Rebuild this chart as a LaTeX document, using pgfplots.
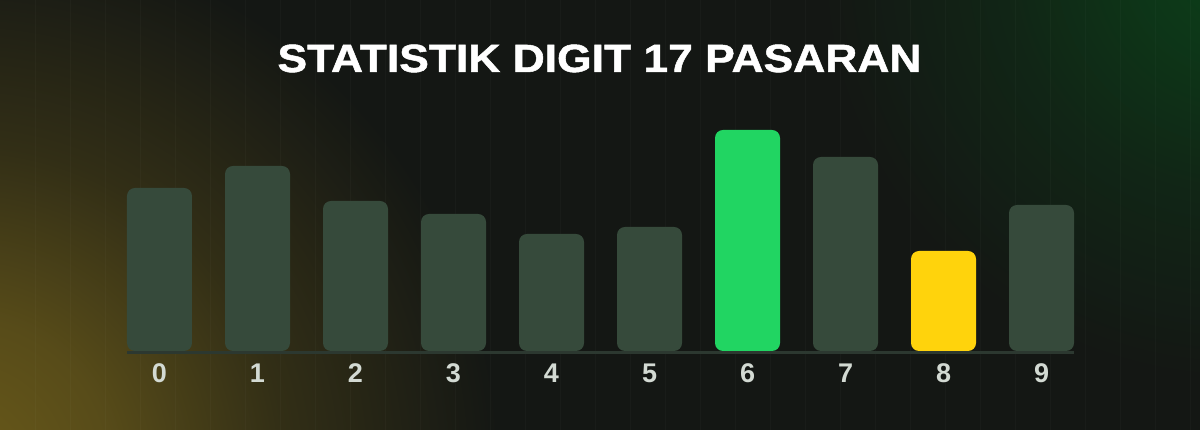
\documentclass[border=0pt]{standalone}
\usepackage{pgfplots}
\pgfplotsset{compat=1.18}
\usepackage{pgfplotstable}
\usepackage{fontspec}
\setmainfont{Liberation Sans}
\newfontfamily\titlefont[FakeStretch=1.13, FakeBold=1.3]{Liberation Sans Bold}
\definecolor{bgc}{HTML}{141714}
\definecolor{gY}{HTML}{6A5A1A}
\definecolor{gG}{HTML}{0B4019}
\definecolor{barc}{HTML}{364A3B}
\definecolor{greenc}{HTML}{21D562}
\definecolor{yellowc}{HTML}{FFD30C}
\definecolor{basec}{HTML}{2C3830}
\definecolor{labc}{HTML}{D3DAD3}
\pgfdeclareradialshading{glowyellow}{\pgfpoint{0bp}{0bp}}{color(0bp)=(gY); color(7bp)=(gY!78!bgc); color(15bp)=(gY!35!bgc); color(25bp)=(bgc); color(50bp)=(bgc)}
\pgfdeclareradialshading{glowgreen}{\pgfpoint{0bp}{0bp}}{color(0bp)=(gG); color(6bp)=(gG!75!bgc); color(14bp)=(gG!35!bgc); color(25bp)=(bgc); color(50bp)=(bgc)}
\pgfplotstableread{
x y
0 163
1 185
2 150
3 137
4 117
5 124
7 194
9 146
}\restbars
\pgfplotstableread{
x y
6 221
}\greenbar
\pgfplotstableread{
x y
8 100
}\yellowbar
\begin{document}
\begin{tikzpicture}[x=1pt,y=1pt]
\useasboundingbox (0,0) rectangle (1200,430);
\fill[bgc] (0,0) rectangle (1200,430);
\begin{scope}
\clip (0,0) rectangle (1200,430);
\shade[shading=glowyellow] (-40,-40) circle (540);
\shade[shading=glowgreen] (1240,470) circle (420);
\foreach \k in {1,...,34} {
  \draw[white, opacity=0.025, line width=1pt] (35*\k,0) -- (35*\k,430);
}
\end{scope}
\node[anchor=base, text=white, font=\titlefont\fontsize{39.3}{46}\selectfont] at (599.5,358) {STATISTIK DIGIT 17 PASARAN};
\begin{axis}[
  at={(127pt,77.5pt)}, anchor=south west,
  scale only axis, width=947pt, height=241.5pt,
  xmin=-0.3316, xmax=9.3316, ymin=-1.5, ymax=240,
  axis x line*=bottom, axis y line=none,
  x axis line style={basec, line width=2.5pt, -},
  xtick={0,...,9}, xticklabels={0,1,2,3,4,5,6,7,8,9},
  major tick length=0pt,
  xticklabel style={anchor=base, yshift=-30.5pt, inner sep=0pt, text=labc, font=\fontsize{27}{30}\selectfont\bfseries},
  ytick=\empty,
  /pgf/number format/assume math mode=true,
  clip=false,
  ybar, bar width=65pt,
  every axis plot/.append style={bar shift=0pt, draw=none, rounded corners=8pt},
]
\addplot[fill=barc] table[x=x,y=y] {\restbars};
\addplot[fill=greenc] table[x=x,y=y] {\greenbar};
\addplot[fill=yellowc] table[x=x,y=y] {\yellowbar};
\end{axis}
\end{tikzpicture}
\end{document}
